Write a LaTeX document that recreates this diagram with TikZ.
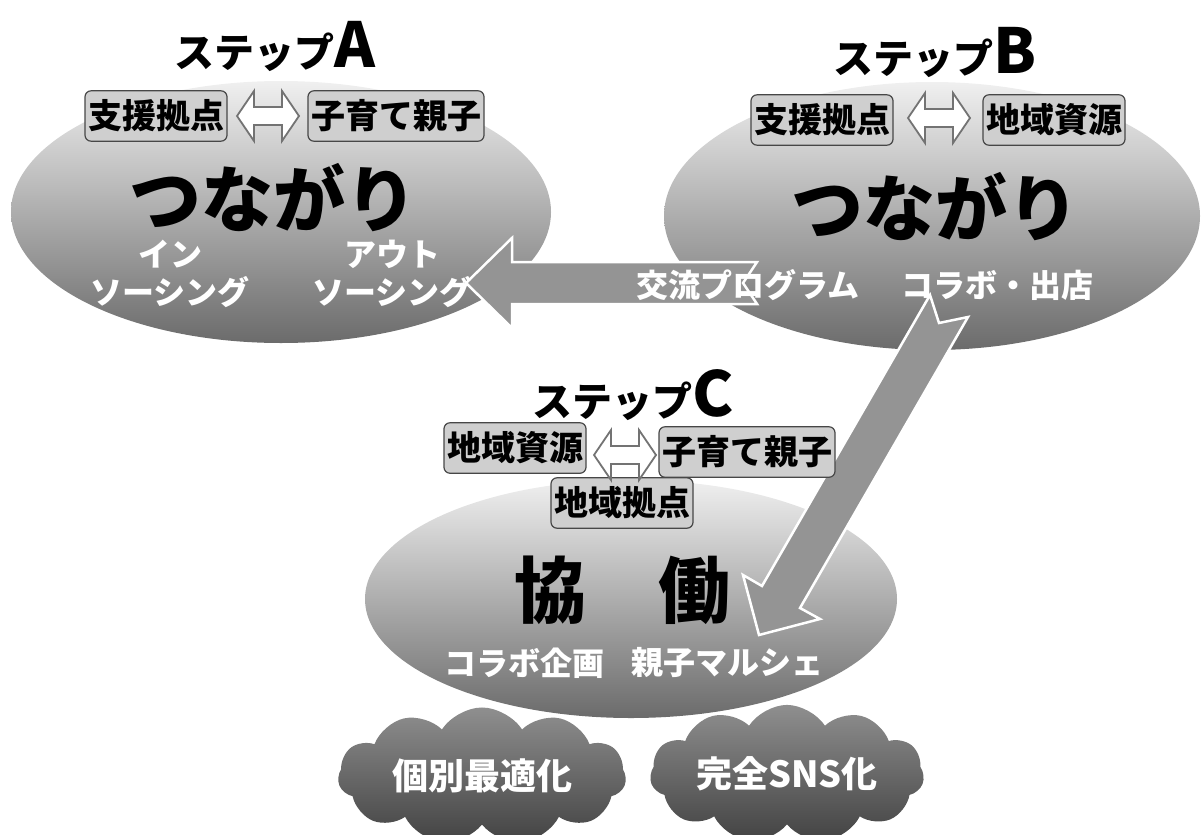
\documentclass[tikz,border=0pt]{standalone}
\usepackage{fontspec}
\newfontfamily\jp{Noto Sans CJK JP}
\usetikzlibrary{shapes.geometric,shapes.symbols}
\newcommand\jpsize[1]{\fontsize{#1}{#1}\selectfont}
\begin{document}
\begin{tikzpicture}[x=1pt,y=-1pt,
  ell/.style={ellipse, inner sep=0pt, draw=none, top color=black!6, middle color=black!30, bottom color=black!58},
  lbox/.style={draw=black!72, line width=1.2pt, fill=black!19, rounded corners=6pt, inner xsep=3pt, inner ysep=9pt, text=black, font={\jp\bfseries\jpsize{34}}},
  steptxt/.style={text=black, font={\jp\bfseries\jpsize{40}}},
  bigtxt/.style={text=black, font={\jp\bfseries\jpsize{72}}},
  wtxt/.style={text=white, align=center, font={\jp\bfseries\fontsize{32}{38}\selectfont}},
  blockarrow/.style={fill=black!42, draw=white, line width=2.5pt, line join=miter},
  dblarrow/.style={fill=white, draw=black!55, line width=1.8pt},
  cloudnode/.style={cloud, cloud puffs=11, cloud puff arc=115, aspect=2.5, inner sep=0pt, draw=none,
     top color=black!44, bottom color=black!74, text=white, font={\jp\bfseries\jpsize{36}}},
  dbl/.pic={\path[dblarrow] (-31,0) -- (-14,-25) -- (-14,-9) -- (14,-9) -- (14,-25) -- (31,0) -- (14,25) -- (14,9) -- (-14,9) -- (-14,25) -- cycle;}
]
\useasboundingbox (0,0) rectangle (1202,835);

% ellipses
\node[ell, minimum width=540, minimum height=262] (ea) at (281,212) {};
\node[ell, minimum width=536, minimum height=268] (eb) at (932,216) {};
\node[ell, minimum width=532, minimum height=238] (ec) at (631,599) {};

% clouds
\node[cloudnode, minimum width=288, minimum height=116] (c1) at (482,776) {個別最適化};
\node[cloudnode, minimum width=274, minimum height=120] (c2) at (787,774) {完全SNS化};

% block arrows
\coordinate (la1) at (466,283);
\path[blockarrow] (la1) -- (512,238) -- (512,262) -- (757,262) -- (743,283) -- (757,304) -- (512,304) -- (512,328) -- cycle;
\coordinate (da1) at (759,635);
\path[blockarrow] (930,295) -- (939,323) -- (968,317) -- (800,608) -- (820,619) -- (da1) -- (743,575) -- (762,586) -- cycle;

% step titles
\node[steptxt] (sa) at (275,46) {ステップ{\jpsize{62}A}};
\node[steptxt] (sb) at (935,52) {ステップ{\jpsize{62}B}};
\node[steptxt] (sc) at (633,395) {ステップ{\jpsize{62}C}};

% A
\node[lbox] (a1) at (156,116) {支援拠点};
\pic at (268,116) {dbl};
\node[lbox] (a2) at (396,116) {子育て親子};
\node[bigtxt] (at) at (273,198) {つながり};
\node[wtxt] (ain) at (170,274) {イン\\ソーシング};
\node[wtxt] (aout) at (392,274) {アウト\\ソーシング};

% B
\node[lbox] (b1) at (822,120) {支援拠点};
\pic at (939,118) {dbl};
\node[lbox] (b2) at (1054,120) {地域資源};
\node[bigtxt] (bt) at (935,207) {つながり};
\node[wtxt] (bx) at (748,285) {交流プログラム};
\node[wtxt] (bc) at (997,285) {コラボ・出店};

% C
\node[lbox] (c3b) at (622,503) {地域拠点};
\node[lbox] (c1b) at (515,448) {地域資源};
\node[lbox] (c2b) at (747,452) {子育て親子};
\pic at (625,455) {dbl};
\node[bigtxt] (ct) at (622,590) {協　働};
\node[wtxt] (cl) at (524,663) {コラボ企画};
\node[wtxt] (cr) at (727,663) {親子マルシェ};
\end{tikzpicture}
\end{document}
